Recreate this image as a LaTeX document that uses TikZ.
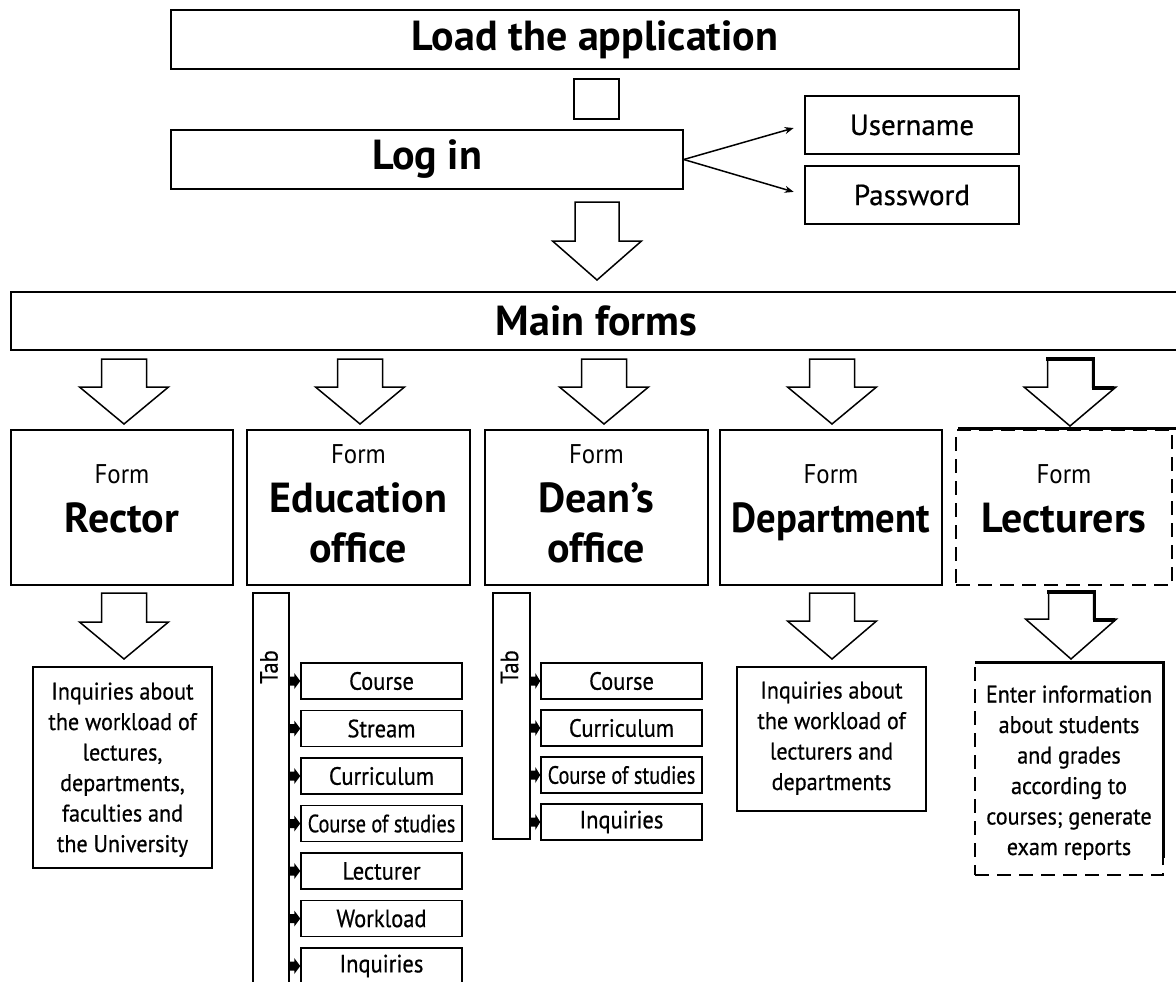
\documentclass[tikz,border=0pt]{standalone}
\usepackage{fontspec}
\setmainfont{PT Sans}
\newfontfamily\condf{PT Sans}[FakeStretch=0.9, FakeBold=0.6]
\newfontfamily\condg{PT Sans}[FakeStretch=0.92, FakeBold=0.6]
\newfontfamily\formf{PT Sans}[FakeStretch=0.92]
\newfontfamily\userf{PT Sans}[FakeBold=0.6]
\usetikzlibrary{arrows.meta,calc}
\newcommand\fBig{\fontsize{42}{50}\selectfont\bfseries}
\newcommand\fForm{\formf\fontsize{27}{30}\selectfont}
\newcommand\fUser{\userf\fontsize{29}{30}\selectfont}
\newcommand\fItem{\condf\fontsize{25}{30}\selectfont}
\newcommand\fInq{\condg\fontsize{24}{30.5}\selectfont}
\newcommand\blockarr[6]{% cx, top, headstart, tip, shafthalf, headhalf
  \draw[barrow] (#1-#5,#2) -- (#1+#5,#2) -- (#1+#5,#3) -- (#1+#6,#3) -- (#1,#4) -- (#1-#6,#3) -- (#1-#5,#3) -- cycle;}
\newcommand\tabarrow[2]{% bar, item
  \fill (#1.east |- #2.west) ++(-0.5,-4.5) -- ++(5,0) -- ++(0,-3.5) -- (#2.west) -- ($(#1.east |- #2.west)+(4.5,8)$) -- ++(0,-3.5) -- ++(-5,0) -- cycle;}
\tikzset{
  bx/.style={draw, line width=1.5pt, inner sep=0pt, align=center},
  dbx/.style={draw, line width=1.5pt, inner sep=0pt, dash pattern=on 14pt off 8pt},
  item/.style={bx, minimum width=161pt, minimum height=36pt, font=\fItem},
  barrow/.style={draw, line width=1.5pt, fill=white, line join=miter},
  thin/.style={line width=1.5pt, -{Stealth[length=9pt,width=7pt]}},
  txt/.style={inner sep=0pt, align=center},
}
\begin{document}
\begin{tikzpicture}[x=1pt,y=-1pt]
\useasboundingbox (0,0) rectangle (1176,982);
% top part
\node[bx, minimum width=848pt, minimum height=59pt, font=\fBig] (load) at (595,39.5) {Load the application};
\node[bx, minimum width=45pt, minimum height=40pt] (sq) at (596.5,99) {};
\node[bx, minimum width=512pt, minimum height=59pt, font=\fBig] (login) at (427,159.5) {Log in};
\node[bx, minimum width=214pt, minimum height=58pt, font=\fUser] (user) at (912,125) {Username};
\node[bx, minimum width=214pt, minimum height=58pt, font=\fUser] (pass) at (912,195) {Password};
\draw[thin, shorten >=11pt] (login.east) -- (user.west);
\draw[thin, shorten >=11pt] (login.east) -- (pass.west);
\blockarr{597}{202}{241}{280}{22}{44.5}
\node[bx, minimum width=1171pt, minimum height=58pt, font=\fBig] (main) at (596.5,321) {Main forms};
% form arrows
\blockarr{124}{359}{387}{424}{22.5}{44.5}
\blockarr{360}{359}{387}{424}{22.5}{44.5}
\blockarr{604}{359}{387}{424}{22.5}{44.5}
\blockarr{832}{359}{387}{424}{22.5}{44.5}
\blockarr{1070}{359}{387}{426}{22.5}{46}
\draw[line width=3.5pt] (1046,359) -- (1093.5,359) -- (1093.5,388) -- (1114,388);
% form boxes
\node[bx, minimum width=222pt, minimum height=155pt] (rector) at (122,507.5) {};
\node[bx, minimum width=223pt, minimum height=155pt] (edu) at (358.5,507.5) {};
\node[bx, minimum width=223pt, minimum height=155pt] (dean) at (596.5,507.5) {};
\node[bx, minimum width=222pt, minimum height=155pt] (dept) at (831,507.5) {};
\node[dbx, minimum width=216pt, minimum height=155pt] (lect) at (1064,507.5) {};
\draw[line width=3.5pt] (958,428.5) -- (1180,428.5);
\node[txt, anchor=base, font=\fForm] (rectorF) at (122,483) {Form};
\node[txt, anchor=base, font=\fBig] (rectorT) at (122,532) {Rector};
\node[txt, anchor=base, font=\fForm] (eduF) at (358.5,463) {Form};
\node[txt, anchor=base, font=\fBig] (eduT) at (358.5,512) {Education};
\node[txt, anchor=base, font=\fBig] (eduT2) at (358.5,562) {office};
\node[txt, anchor=base, font=\fForm] (deanF) at (596.5,463) {Form};
\node[txt, anchor=base, font=\fBig] (deanT) at (596.5,512) {Dean’s};
\node[txt, anchor=base, font=\fBig] (deanT2) at (596.5,562) {office};
\node[txt, anchor=base, font=\fForm] (deptF) at (831,483) {Form};
\node[txt, anchor=base, font=\fBig] (deptT) at (831,532) {\scalebox{0.92}[1]{Department}};
\node[txt, anchor=base, font=\fForm] (lectF) at (1064,483) {Form};
\node[txt, anchor=base, font=\fBig] (lectT) at (1064,532) {Lecturers};
% lower arrows
\blockarr{124}{593}{622}{659}{22.5}{44.5}
\blockarr{832}{593}{621}{659}{22.5}{44.5}
\blockarr{1071}{592}{619}{659}{22.5}{45.5}
\draw[line width=3.5pt] (1047,592) -- (1094.5,592) -- (1094.5,620) -- (1115,620);
% inquiry boxes
\node[bx, minimum width=179pt, minimum height=201pt] (rinq) at (122.5,767.5) {};
\node[txt, anchor=base, font=\fInq] (rinqT) at (122.5,852) {Inquiries about\\the workload of\\lectures,\\departments,\\faculties and\\the University};
\node[bx, minimum width=189pt, minimum height=144pt] (dinq) at (831.5,739) {};
\node[txt, anchor=base, font=\fInq] (dinqT) at (831.5,790) {Inquiries about\\the workload of\\lecturers and\\departments};
\node[dbx, minimum width=188pt, minimum height=213pt] (linq) at (1069,768.5) {};
\draw[line width=3pt] (975,662) -- (1163,662) -- (1163,858);
\node[txt, anchor=base, font=\fInq] (linqT) at (1069,855) {Enter information\\about students\\and grades\\according to\\courses; generate\\exam reports};
% education tabs
\node[bx, minimum width=36pt, minimum height=397pt] (edutab) at (271,791.5) {};
\node[rotate=90, font=\fItem, inner sep=0pt] (edutabT) at (269,667) {Tab};
\foreach \n/\t [count=\i from 0] in {e1/Course,e2/Stream,e3/Curriculum,e4/{\scalebox{0.9}[1]{Course of studies}},e5/Lecturer,e6/Workload,e7/Inquiries}{
  \node[item] (\n) at (381.5,681+47.5*\i) {\t};
  \tabarrow{edutab}{\n}
}
% dean tabs
\node[bx, minimum width=37pt, minimum height=246pt] (deantab) at (511.5,716) {};
\node[rotate=90, font=\fItem, inner sep=0pt] (deantabT) at (509.5,667) {Tab};
\foreach \n/\t [count=\i from 0] in {d1/Course,d2/Curriculum,d3/{\scalebox{0.9}[1]{Course of studies}},d4/Inquiries}{
  \node[item] (\n) at (621.5,681+47*\i) {\t};
  \tabarrow{deantab}{\n}
}
\end{tikzpicture}
\end{document}
